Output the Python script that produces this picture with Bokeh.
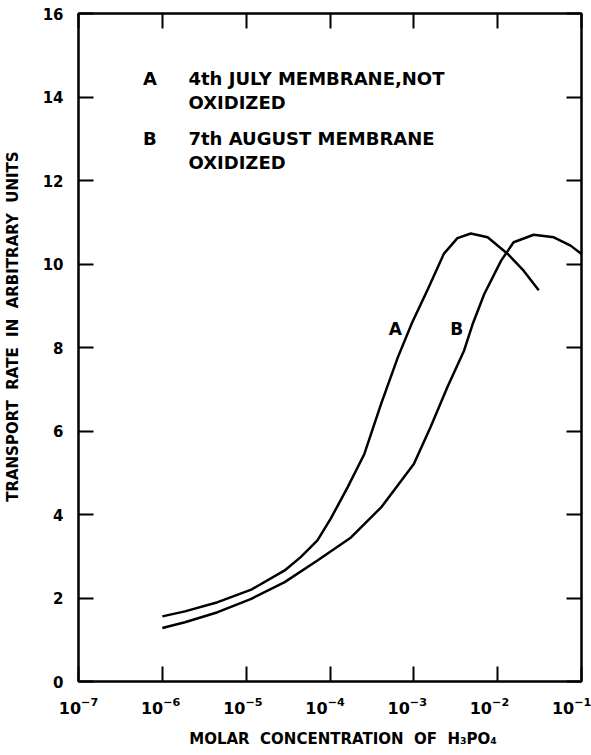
from bokeh.plotting import figure
from bokeh.models import (Range1d, FixedTicker, LogAxis, LinearAxis, CustomJSTickFormatter,
                          LogScale, LogTickFormatter)
from bokeh.embed import file_html
from bokeh.resources import INLINE
from bokeh.core.properties import value

# ---- data ----
conc_A = [1e-6, 1.86e-6, 4.57e-6, 1.15e-5, 2.88e-5, 4.47e-5, 7.08e-5, 1.02e-4,
          1.62e-4, 2.57e-4, 4.07e-4, 6.46e-4, 9.55e-4, 1.45e-3, 2.29e-3, 3.31e-3,
          4.79e-3, 7.59e-3, 1.32e-2, 2.04e-2, 3.09e-2]
rate_A = [1.56, 1.68, 1.90, 2.20, 2.66, 2.98, 3.38, 3.90,
          4.65, 5.45, 6.65, 7.77, 8.60, 9.37, 10.25, 10.62,
          10.73, 10.64, 10.24, 9.84, 9.37]

conc_B = [1e-6, 1.86e-6, 4.57e-6, 1.15e-5, 2.88e-5, 7.08e-5, 1.78e-4, 4.07e-4,
          1.0e-3, 1.58e-3, 2.51e-3, 3.98e-3, 5.01e-3, 6.92e-3, 1.10e-2, 1.55e-2,
          2.69e-2, 4.68e-2, 7.41e-2, 1e-1]
rate_B = [1.28, 1.42, 1.66, 1.98, 2.38, 2.90, 3.45, 4.17,
          5.21, 6.09, 7.05, 7.93, 8.55, 9.28, 10.08, 10.52,
          10.70, 10.64, 10.44, 10.24]

x_ticks = [1e-7, 1e-6, 1e-5, 1e-4, 1e-3, 1e-2, 1e-1]
y_ticks = [0, 2, 4, 6, 8, 10, 12, 14, 16]

curve_labels = ["A", "B"]
curve_label_x = [6.0e-4, 3.25e-3]
curve_label_y = [8.44, 8.44]

legend_keys = ["A", "B"]
legend_lines = [["4th  JULY MEMBRANE,NOT", "OXIDIZED"],
                ["7th  AUGUST MEMBRANE", "OXIDIZED"]]

NB = "\u00a0"
x_label = NB * 5 + "MOLAR" + NB * 2 + "CONCENTRATION" + NB * 2 + "OF" + NB * 2 + "H\u2083PO\u2084"
y_label = NB * 8 + "TRANSPORT" + NB * 2 + "RATE" + NB * 2 + "IN" + NB * 2 + "ARBITRARY" + NB * 2 + "UNITS"

FONT = "DejaVu Sans"

p = figure(x_axis_type="log", x_range=Range1d(1e-7, 1e-1), y_range=Range1d(0, 16),
           extra_x_ranges={"lab": Range1d(1e-7, 1.318e-1)},
           extra_x_scales={"lab": LogScale()},
           frame_width=503, frame_height=668,
           min_border_left=78, min_border_right=10, min_border_top=13, min_border_bottom=74,
           output_backend="svg", toolbar_location=None)
p.xgrid.visible = False
p.ygrid.visible = False
p.outline_line_color = "black"
p.outline_line_width = 2
p.background_fill_color = "white"
p.border_fill_color = "white"

blank = CustomJSTickFormatter(code="return ''")

def style_axis(ax, show_labels):
    ax.major_tick_in = 15
    ax.major_tick_out = 0
    ax.minor_tick_line_color = None
    ax.major_tick_line_width = 2
    ax.major_tick_line_color = "black"
    ax.axis_line_width = 2
    ax.axis_line_color = "black"
    ax.major_label_text_font = FONT
    ax.major_label_text_color = "black"
    ax.major_label_text_font_style = "bold"
    ax.axis_label_text_color = "black"
    ax.axis_label_text_font = FONT
    ax.axis_label_text_font_style = "bold"
    if not show_labels:
        ax.formatter = blank
        ax.major_label_standoff = 0

xa = p.xaxis[0]
xa.ticker = FixedTicker(ticks=x_ticks, minor_ticks=[])
style_axis(xa, False)

# tick-label axis (labels only, set slightly left of each tick as in the original)
xl = LogAxis(x_range_name="lab", ticker=FixedTicker(ticks=x_ticks, minor_ticks=[]),
             formatter=LogTickFormatter())
style_axis(xl, True)
xl.axis_line_color = None
xl.major_tick_line_color = None
xl.major_tick_in = 0
xl.major_tick_out = 0
xl.major_label_text_font_size = "16px"
xl.major_label_standoff = 15
xl.axis_label = x_label
xl.axis_label_text_font_size = "15px"
xl.axis_label_standoff = 13
p.add_layout(xl, "below")

ya = p.yaxis[0]
ya.ticker = FixedTicker(ticks=y_ticks, minor_ticks=[])
style_axis(ya, True)
ya.major_label_text_font_size = "15px"
ya.major_label_standoff = 15
ya.axis_label = y_label
ya.axis_label_text_font_size = "15px"
ya.axis_label_standoff = 18

top = LogAxis(ticker=FixedTicker(ticks=x_ticks, minor_ticks=[]))
style_axis(top, False)
p.add_layout(top, "above")
right = LinearAxis(ticker=FixedTicker(ticks=y_ticks, minor_ticks=[]))
style_axis(right, False)
p.add_layout(right, "right")

p.line(conc_A, rate_A, line_color="black", line_width=2.5, line_join="round")
p.line(conc_B, rate_B, line_color="black", line_width=2.5, line_join="round")

p.text(x=curve_label_x, y=curve_label_y, text=curve_labels,
       text_font=value(FONT), text_font_size="17px", text_font_style="bold",
       text_align="center", text_baseline="middle", text_color="black")

# legend block
key_x = 7.1e-7
text_x = 2.05e-6
row_y = [[14.44, 13.87], [13.0, 12.43]]
for key, lines, ys in zip(legend_keys, legend_lines, row_y):
    p.text(x=[key_x], y=[ys[0]], text=[key], text_font=value(FONT),
           text_font_size="18px", text_font_style="bold", text_align="center",
           text_baseline="middle", text_color="black")
    p.text(x=[text_x] * len(lines), y=ys, text=lines, text_font=value(FONT),
           text_font_size="18px", text_font_style="bold", text_align="left",
           text_baseline="middle", text_color="black")

open("out.html", "w").write(file_html(p, INLINE))
